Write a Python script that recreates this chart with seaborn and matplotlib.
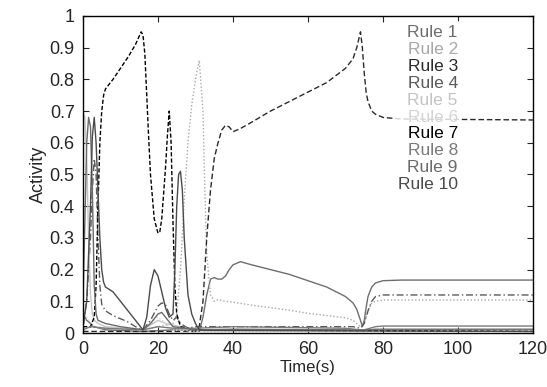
import pandas as pd
import seaborn as sns
import matplotlib.pyplot as plt

# values (time in s, activity 0..1)
rule1_t = [0, 0.5, 1, 3, 6, 16, 24, 30, 31, 32, 33, 34, 35, 36, 37, 38, 39, 40, 42, 45, 50, 55, 60, 65, 70, 72, 73, 74, 74.5, 75, 75.5, 76, 77, 78, 80, 85, 120]
rule1_v = [0.02, 0.05, 0.04, 0.02, 0.01, 0.005, 0.01, 0.008, 0.005, 0.05, 0.12, 0.17, 0.175, 0.17, 0.17, 0.18, 0.2, 0.215, 0.225, 0.215, 0.2, 0.185, 0.165, 0.145, 0.115, 0.095, 0.075, 0.04, 0.02, 0.04, 0.08, 0.115, 0.145, 0.158, 0.165, 0.167, 0.167]

rule2_t = [0, 6, 16, 24, 25, 26, 27, 28, 29, 30, 31, 32, 32.5, 33, 34, 35, 36, 38, 40, 45, 50, 55, 60, 65, 70, 72, 74, 75, 76, 77, 78, 80, 120]
rule2_v = [0.02, 0.015, 0.01, 0.03, 0.06, 0.2, 0.42, 0.6, 0.72, 0.8, 0.86, 0.7, 0.45, 0.25, 0.12, 0.1, 0.105, 0.1, 0.097, 0.088, 0.08, 0.072, 0.062, 0.055, 0.048, 0.04, 0.02, 0.03, 0.07, 0.095, 0.1, 0.104, 0.104]

rule3_t = [0, 16, 30, 31, 32, 33, 34, 35, 36, 37, 38, 39, 40, 42, 45, 50, 55, 60, 65, 70, 72, 73, 74, 74.5, 75, 75.5, 76, 77, 78, 80, 85, 120]
rule3_v = [0.005, 0.005, 0.005, 0.02, 0.1, 0.3, 0.45, 0.55, 0.6, 0.64, 0.655, 0.65, 0.635, 0.645, 0.665, 0.7, 0.73, 0.76, 0.79, 0.835, 0.865, 0.9, 0.95, 0.9, 0.82, 0.76, 0.73, 0.7, 0.69, 0.68, 0.675, 0.672]

rule4_t = [0, 1, 2, 2.5, 3, 3.5, 4, 4.5, 5, 6, 8, 10, 12, 14, 16, 18, 20, 21, 22, 23, 24, 25, 26, 28, 30, 40, 60, 72, 74, 75, 76, 77, 78, 80, 120]
rule4_v = [0.03, 0.1, 0.3, 0.45, 0.55, 0.5, 0.3, 0.15, 0.09, 0.07, 0.055, 0.045, 0.035, 0.02, 0.01, 0.04, 0.085, 0.095, 0.09, 0.06, 0.04, 0.05, 0.03, 0.015, 0.02, 0.02, 0.02, 0.02, 0.015, 0.03, 0.07, 0.1, 0.115, 0.12, 0.12]

rule5_t = [0, 0.5, 1, 1.5, 2, 2.5, 3, 4, 6, 16, 20, 22, 26, 30, 120]
rule5_v = [0.7, 0.68, 0.55, 0.3, 0.12, 0.06, 0.04, 0.03, 0.02, 0.01, 0.04, 0.03, 0.02, 0.01, 0.01]

rule6_t = [0, 1, 3, 16, 18, 20, 22, 24, 30, 120]
rule6_v = [0.03, 0.05, 0.02, 0.008, 0.03, 0.05, 0.03, 0.01, 0.005, 0.005]

rule7_t = [0, 2, 3, 3.5, 4, 4.5, 5, 5.5, 6, 8, 10, 12, 14, 15.5, 16, 16.5, 17, 17.5, 18, 19, 20, 20.5, 21, 22, 22.5, 23, 23.5, 24, 24.5, 25, 26, 30, 120]
rule7_v = [0.02, 0.02, 0.05, 0.15, 0.4, 0.6, 0.7, 0.75, 0.77, 0.8, 0.835, 0.87, 0.91, 0.95, 0.94, 0.88, 0.75, 0.62, 0.5, 0.36, 0.315, 0.32, 0.36, 0.52, 0.62, 0.7, 0.6, 0.35, 0.15, 0.06, 0.02, 0.01, 0.005]

rule8_t = [0, 2, 6, 16, 20, 24, 30, 40, 70, 74, 75, 78, 80, 120]
rule8_v = [0.01, 0.02, 0.015, 0.01, 0.02, 0.015, 0.015, 0.02, 0.015, 0.01, 0.01, 0.02, 0.022, 0.022]

rule9_t = [0, 0.5, 1, 1.5, 2, 2.5, 3, 3.5, 4, 6, 10, 16, 18, 20, 21, 22, 24, 30, 40, 70, 74, 76, 78, 120]
rule9_v = [0.1, 0.35, 0.6, 0.68, 0.65, 0.45, 0.15, 0.06, 0.04, 0.03, 0.02, 0.01, 0.03, 0.06, 0.065, 0.05, 0.02, 0.01, 0.012, 0.01, 0.008, 0.01, 0.012, 0.012]

rule10_t = [0, 1, 2, 2.5, 3, 3.5, 4, 4.5, 5, 5.5, 6, 8, 10, 12, 14, 16, 17, 18, 19, 20, 21, 22, 23, 24, 24.5, 25, 25.5, 26, 26.5, 27, 28, 29, 30, 31, 32, 120]
rule10_v = [0.02, 0.1, 0.4, 0.62, 0.68, 0.6, 0.45, 0.3, 0.2, 0.16, 0.145, 0.13, 0.1, 0.07, 0.04, 0.01, 0.05, 0.15, 0.2, 0.18, 0.13, 0.08, 0.05, 0.06, 0.2, 0.4, 0.5, 0.51, 0.45, 0.3, 0.12, 0.06, 0.03, 0.01, 0.008, 0.005]

rule_names = ['Rule 1', 'Rule 2', 'Rule 3', 'Rule 4', 'Rule 5', 'Rule 6', 'Rule 7', 'Rule 8', 'Rule 9', 'Rule 10']
times = [rule1_t, rule2_t, rule3_t, rule4_t, rule5_t, rule6_t, rule7_t, rule8_t, rule9_t, rule10_t]
values = [rule1_v, rule2_v, rule3_v, rule4_v, rule5_v, rule6_v, rule7_v, rule8_v, rule9_v, rule10_v]

colors = ['#6e6e6e', '#a8a8a8', '#2a2a2a', '#5a5a5a', '#c4c4c4', '#d4d4d4', '#000000', '#7a7a7a', '#6a6a6a', '#4a4a4a']
dashes = ['', (1, 1.5), (4, 2), (5, 2, 1, 2), '', (1, 1.5), (3, 1.5), '', '', '']

rows = []
for name, t, v in zip(rule_names, times, values):
    for ti, vi in zip(t, v):
        rows.append({'rule': name, 'time': ti, 'activity': vi})
df = pd.DataFrame(rows)

sns.set_style('ticks')
plt.rcParams['font.family'] = ['Liberation Sans', 'DejaVu Sans']

fig = plt.figure(figsize=(5.47, 3.87), dpi=100)
ax = fig.add_axes([0.1517, 0.1395, 0.8227, 0.8192])

sns.lineplot(data=df, x='time', y='activity', hue='rule', style='rule',
             hue_order=rule_names, style_order=rule_names,
             palette=dict(zip(rule_names, colors)),
             dashes=dict(zip(rule_names, dashes)),
             linewidth=1.0, errorbar=None, legend=False, ax=ax)

ax.set_xlim(0, 120)
ax.set_ylim(0, 1)
ax.set_xticks([0, 20, 40, 60, 80, 100, 120])
ax.set_yticks([0, 0.1, 0.2, 0.3, 0.4, 0.5, 0.6, 0.7, 0.8, 0.9, 1])
ax.set_yticklabels(['0', '0.1', '0.2', '0.3', '0.4', '0.5', '0.6', '0.7', '0.8', '0.9', '1'])
ax.tick_params(direction='in', top=True, right=True, length=4, labelsize=13, pad=6)
for s in ax.spines.values():
    s.set_color('black')
    s.set_linewidth(1.0)
ax.set_xlabel('Time(s)', fontsize=12, labelpad=1)
ax.set_ylabel('Activity', fontsize=13, labelpad=2)

# text-only legend, labels coloured like their lines, right aligned
leg = ax.legend(ax.lines[:10], rule_names, loc='upper right', bbox_to_anchor=(0.86, 1.01),
                handlelength=0, handletextpad=0, markerfirst=False,
                labelcolor=colors, fontsize=12.5, labelspacing=0.1,
                frameon=True, framealpha=0.8, facecolor='white', edgecolor='none',
                borderpad=0.2)

fig.savefig('out.png', dpi=100)
